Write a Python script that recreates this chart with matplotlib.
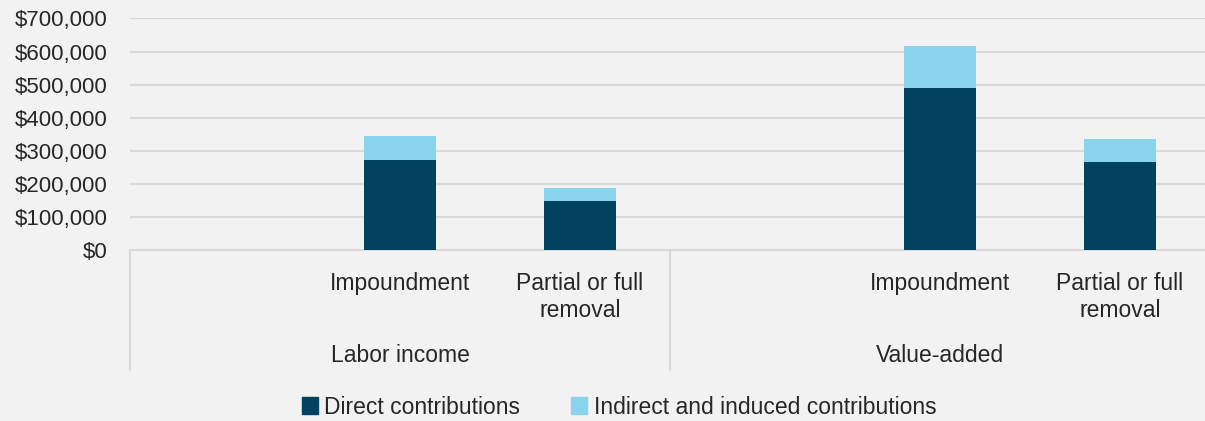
import matplotlib
matplotlib.use("Agg")
import matplotlib.pyplot as plt
from matplotlib.patches import Patch
from matplotlib.ticker import FuncFormatter
import matplotlib.transforms as mtransforms

plt.rcParams['font.family'] = ['Liberation Sans', 'DejaVu Sans']

# data
groups = ["Labor income", "Value-added"]
scenarios = ["", "Impoundment", "Partial or full\nremoval"]
direct = [0, 271000, 148000, 0, 490000, 266000]
indirect = [0, 74000, 40000, 0, 128000, 69000]
series_names = ["Direct contributions", "Indirect and induced contributions"]

dark = "#00425f"
light = "#89d3ec"
bg = "#f2f2f2"
grid = "#d9d9d9"
txt = "#262626"
fs = 16.5

fig = plt.figure(figsize=(12.05, 4.21), dpi=100, facecolor=bg)
ax = fig.add_axes([130 / 1205, 1 - 250 / 421, 1080 / 1205, (250 - 18.5) / 421])
ax.set_facecolor(bg)

x = list(range(len(direct)))
ax.bar(x, direct, width=0.4, color=dark, zorder=3)
ax.bar(x, indirect, width=0.4, bottom=direct, color=light, zorder=3)

ax.set_xlim(-0.5, len(direct) - 0.5)
ax.set_ylim(0, 700000)
ax.set_yticks(range(0, 700001, 100000))
ax.yaxis.set_major_formatter(FuncFormatter(lambda v, p: f"${v:,.0f}"))
ax.grid(axis="y", color=grid, linewidth=1.5, zorder=0)
for s in ["top", "right", "left"]:
    ax.spines[s].set_visible(False)
ax.spines["bottom"].set_color(grid)
ax.spines["bottom"].set_linewidth(1.5)

ax.set_xticks(x)
ax.set_xticklabels(scenarios * len(groups), fontsize=fs, color=txt,
                   linespacing=1.22, va="top")
ax.tick_params(axis="x", length=0, pad=16)
ax.tick_params(axis="y", length=0, pad=16, labelsize=16, labelcolor=txt)

# group labels and separators
trans = mtransforms.blended_transform_factory(ax.transData, ax.transAxes)
n = len(scenarios)
for i, g in enumerate(groups):
    ax.text(i * n + 1, -0.455, g, transform=trans, ha="center", va="center",
            fontsize=fs, color=txt)
for i in range(len(groups)):
    ax.plot([i * n - 0.5, i * n - 0.5], [0, -0.52], transform=trans,
            color=grid, linewidth=1.5, clip_on=False)

handles = [Patch(color=dark), Patch(color=light)]
fig.legend(handles, series_names, loc="center", bbox_to_anchor=(619 / 1205, 1 - 407 / 421),
           ncol=2, frameon=False, fontsize=fs, handlelength=0.7, handleheight=0.7,
           handletextpad=0.3, columnspacing=2.2, labelcolor=txt)

fig.savefig("out.png", dpi=100, facecolor=bg)
